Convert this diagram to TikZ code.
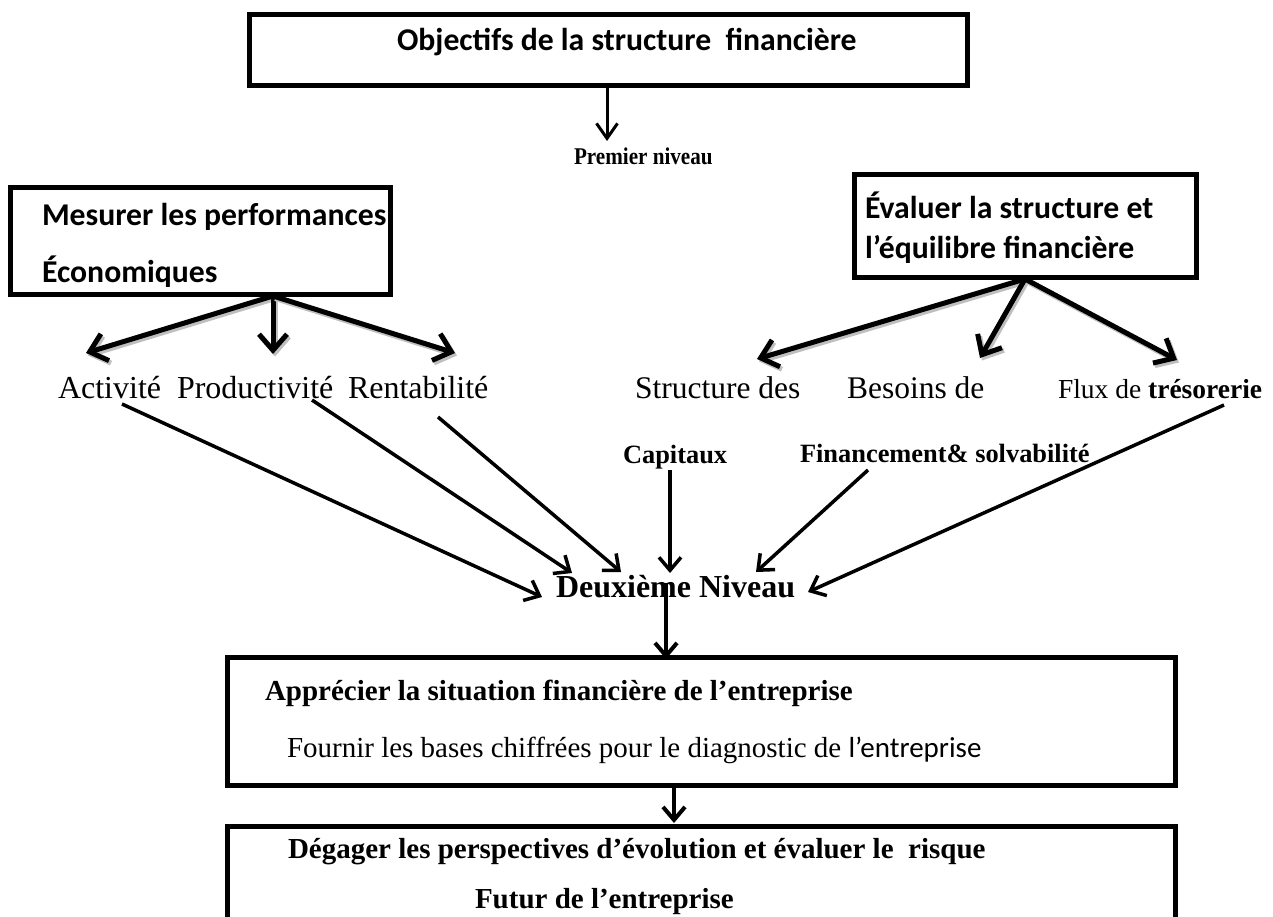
\documentclass[tikz,border=0pt]{standalone}
\usepackage{fontspec}
\usepackage{graphicx}
\setmainfont{Liberation Serif}
\newfontfamily\calfont{Carlito}
\usetikzlibrary{arrows.meta}

\tikzset{
  frame/.style={draw, line width=5pt, inner sep=0pt, outer sep=0pt, anchor=north west},
  lbl/.style={anchor=base west, inner sep=0pt, outer sep=0pt},
  cb/.style={lbl, font=\calfont\bfseries\fontsize{31.7}{36}\selectfont},
  tr/.style={lbl, font=\fontsize{#1}{#1}\selectfont},
  trb/.style={lbl, font=\bfseries\fontsize{#1}{#1}\selectfont},
  heavy/.style={line width=5pt, -{Straight Barb[length=16pt,width=28pt]},
    preaction={draw=gray!50, line width=5pt, -{Straight Barb[length=16pt,width=28pt]},
      transform canvas={shift={(2pt,-2.5pt)}}}},
  link/.style={line width=3.5pt, -{Straight Barb[length=13pt,width=22pt]}},
}

\begin{document}
\begin{tikzpicture}[x=1pt, y=-1pt]
\useasboundingbox (0,0) rectangle (1273,916);
\clip (0,0) rectangle (1273,916);
\fill[white] (0,0) rectangle (1273,916);

% boxes
\node[frame, minimum width=718pt, minimum height=71pt] (top) at (249.5,14.5) {};
\node[frame, minimum width=380pt, minimum height=107pt] (lft) at (10.5,187.5) {};
\node[frame, line width=4.5pt, minimum width=342pt, minimum height=103pt] (rgt) at (854.5,174.5) {};
\node[frame, minimum width=948pt, minimum height=128pt] (sit) at (227.5,657.5) {};
\node[frame, minimum width=948pt, minimum height=130pt] (fut) at (227.5,826.5) {};

% texts
\node[cb] (tobj) at (397,50) {Objectifs de la structure\ \ financière};
\node[trb=24] (prem) at (574,164) {\scalebox{0.88}[1]{Premier niveau}};
\node[cb] (mes1) at (42,225) {Mesurer les performances};
\node[cb] (mes2) at (42,282) {Économiques};
\node[cb] (eva1) at (865,218) {Évaluer la structure et};
\node[cb] (eva2) at (865,258) {l’équilibre financière};

\node[tr=32] (act) at (58,398) {Activité};
\node[tr=32] (prod) at (177,398) {Productivité};
\node[tr=32] (rent) at (348,398) {Rentabilité};
\node[tr=31.5] (stru) at (635,398) {Structure des};
\node[tr=31.5] (bes) at (847,398) {Besoins de};
\node[tr=27.5] (flux) at (1058,398) {Flux de \textbf{trésorerie}};

\node[trb=26.4] (cap) at (623,463) {Capitaux};
\node[trb=26.4] (fin) at (800,462) {Financement\& solvabilité};

\node[trb=32] (deux) at (556,597) {Deuxième Niveau};

\node[trb=29] (app) at (265,700) {Apprécier la situation financière de l’entreprise};
\node[tr=29] (four) at (287,757) {Fournir les bases chiffrées pour le diagnostic de {\calfont l’entreprise}};
\node[trb=29] (deg) at (288,858) {Dégager les perspectives d’évolution et évaluer le\ \ risque};
\node[trb=29] (futx) at (475,908) {Futur de l’entreprise};

% connection points
\coordinate (topout) at (607,87);
\coordinate (premin) at (607,141);
\coordinate (lfork) at (273,296);
\coordinate (rfork) at (1025,279);
\coordinate (actin) at (86,353);
\coordinate (prodin) at (273,354);
\coordinate (rentin) at (455,353);
\coordinate (struin) at (757,359);
\coordinate (besin) at (980,358);
\coordinate (fluxin) at (1177,360);
\coordinate (actout) at (122,404);
\coordinate (prodout) at (312,400);
\coordinate (rentout) at (438,417);
\coordinate (capout) at (670,470);
\coordinate (finout) at (868,470);
\coordinate (fluxout) at (1224,405);
\coordinate (dA) at (542,597);
\coordinate (dB) at (572,573);
\coordinate (dC) at (621,572);
\coordinate (dD) at (670,573);
\coordinate (dE) at (756,572);
\coordinate (dF) at (808,592);
\coordinate (deuxout) at (666,583);
\coordinate (sitin) at (666,659);
\coordinate (sitout) at (674,784);
\coordinate (futin) at (674,823);

% first level
\draw[line width=3pt, -{Straight Barb[length=15pt,width=21pt]}] (topout) -- (premin);
\draw[heavy] (lfork) -- (actin);
\draw[heavy] (lfork) -- (prodin);
\draw[heavy] (lfork) -- (rentin);
\draw[heavy] (rfork) -- (struin);
\draw[heavy] (rfork) -- (besin);
\draw[heavy] (rfork) -- (fluxin);

% second level
\draw[link] (actout) -- (dA);
\draw[link] (prodout) -- (dB);
\draw[link] (rentout) -- (dC);
\draw[link] (capout) -- (dD);
\draw[link] (finout) -- (dE);
\draw[link] (fluxout) -- (dF);

\draw[link, line width=4pt] (deuxout) -- (sitin);
\draw[link, line width=4pt] (sitout) -- (futin);
\end{tikzpicture}
\end{document}
